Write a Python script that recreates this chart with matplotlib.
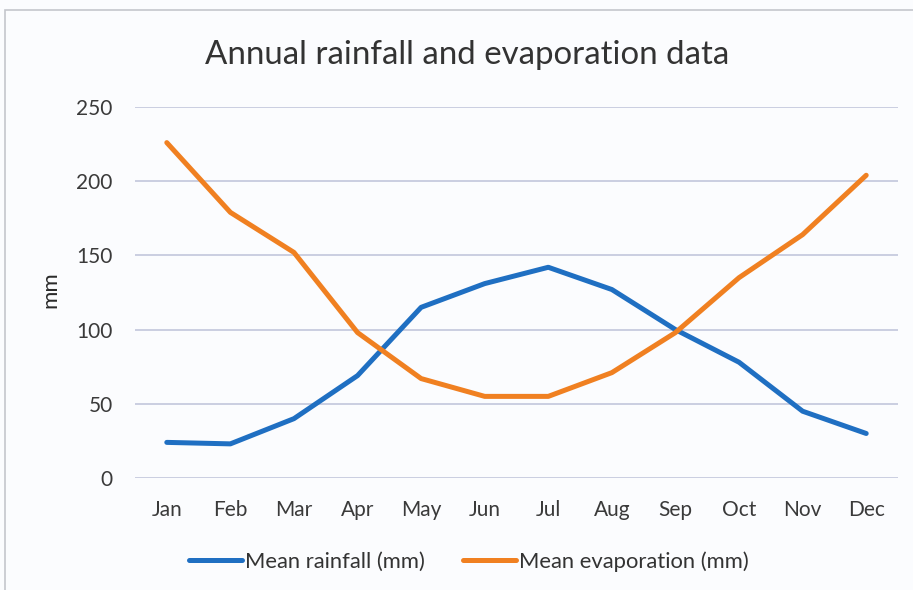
import matplotlib.pyplot as plt
from matplotlib.patches import Rectangle

plt.rcParams['font.family'] = ['Lato', 'DejaVu Sans']

# Data
months = ['Jan', 'Feb', 'Mar', 'Apr', 'May', 'Jun',
          'Jul', 'Aug', 'Sep', 'Oct', 'Nov', 'Dec']
rainfall = [24, 23, 40, 69, 115, 131, 142, 127, 100, 78, 45, 30]
evaporation = [226, 179, 152, 98, 67, 55, 55, 71, 98, 135, 164, 204]
y_ticks = [0, 50, 100, 150, 200, 250]

fig = plt.figure(figsize=(9.13, 5.9), dpi=100)
fig.patch.set_facecolor('#fbfcfe')

# chart border (scanned frame)
frame = Rectangle((5 / 913, -0.05), 1.0, 1.05 - 10 / 590, transform=fig.transFigure,
                  fill=False, edgecolor='#c4c6cc', linewidth=1.2)
fig.patches.append(frame)

ax = fig.add_axes([135 / 913, 1 - 478 / 590, (898 - 135) / 913, (478 - 107) / 590])
ax.set_facecolor('none')

x = list(range(len(months)))
ax.plot(x, rainfall, color='#1f6fc2', lw=3.6, solid_capstyle='round',
        label='Mean rainfall (mm)', zorder=3)
ax.plot(x, evaporation, color='#f08021', lw=3.6, solid_capstyle='round',
        label='Mean evaporation (mm)', zorder=3)

ax.set_xlim(-0.5, 11.5)
ax.set_ylim(0, 250)
ax.set_yticks(y_ticks)
ax.set_xticks(x)
ax.set_xticklabels(months)
ax.yaxis.grid(True, color='#c6cbde', lw=1.3)
ax.set_axisbelow(True)
for s in ax.spines.values():
    s.set_visible(False)
ax.tick_params(length=0, labelsize=15, labelcolor='#3a3a3a')
ax.tick_params(axis='x', pad=16)
ax.tick_params(axis='y', pad=16)

ax.set_ylabel('mm', fontsize=16, color='#2a2a2a')
ax.yaxis.set_label_coords(-0.098, 0.507)
fig.text(467 / 913, 1 - 55 / 590, 'Annual rainfall and evaporation data',
         ha='center', va='center', fontsize=23.8, color='#333333')

ax.legend(loc='center', bbox_to_anchor=(0.438, -0.226), ncol=2, frameon=False,
          fontsize=15.8, handlelength=2.4, handletextpad=0.15, columnspacing=1.75,
          labelcolor='#333333')

fig.savefig('out.png', dpi=100, facecolor=fig.get_facecolor())
